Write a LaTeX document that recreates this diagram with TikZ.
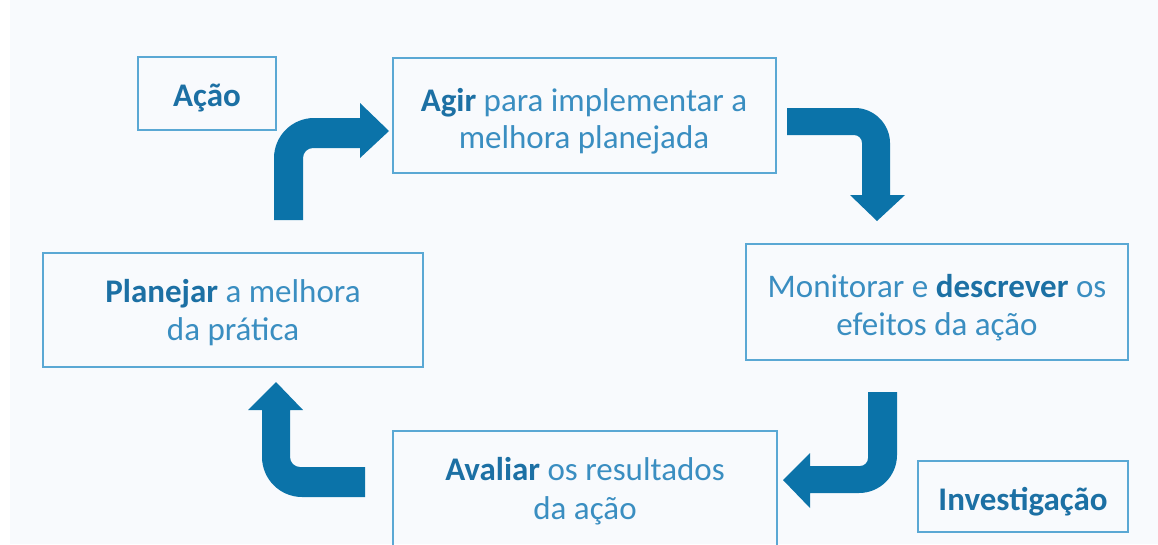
\documentclass[tikz,border=0pt]{standalone}
\usepackage{fontspec}
\setmainfont{Carlito}
\definecolor{bg}{HTML}{F8FAFD}
\definecolor{boxline}{HTML}{5AA8D4}
\definecolor{arrowblue}{HTML}{0B73A9}
\definecolor{txt}{HTML}{3A8EC1}
\definecolor{txtbold}{HTML}{1C70A4}
\newcommand{\hl}[1]{{\bfseries\color{txtbold}#1}}
\begin{document}
\begin{tikzpicture}[x=1pt,y=-1pt,
  boxnode/.style={draw=boxline, line width=2pt, rectangle, inner sep=0pt},
  lbl/.style={anchor=base, text=txt, font=\fontsize{33}{38}\selectfont, inner sep=0pt},
  arr/.style={fill=arrowblue}]
\useasboundingbox (0,0) rectangle (1158,544);
\clip (0,0) rectangle (1158,544);
\fill[white] (0,0) rectangle (1158,544);
\fill[bg] (10,0) rectangle (1158,544);

% boxes
\node[boxnode, minimum width=138pt, minimum height=73pt] (acao) at (207,93.5) {};
\node[boxnode, minimum width=383pt, minimum height=115pt] (agir) at (584.5,115.5) {};
\node[boxnode, minimum width=380pt, minimum height=114pt] (plan) at (233,310) {};
\node[boxnode, minimum width=382pt, minimum height=116pt] (moni) at (937,302) {};
\node[boxnode, minimum width=384pt, minimum height=130pt] (aval) at (585,496) {};
\node[boxnode, minimum width=210pt, minimum height=71pt] (inv) at (1023,496.5) {};

% arrows
\fill[arr] (274,220) -- (274,158) .. controls (274,136) and (292,118) .. (314,118)
  -- (360,118) -- (360,103) -- (389,131) -- (360,158) -- (360,148) -- (313,148)
  .. controls (307.5,148) and (303,152.5) .. (303,158) -- (303,220) -- cycle;
\fill[arr] (787,108) -- (855,108) .. controls (874,108) and (890,124) .. (890,143)
  -- (890,195) -- (905,195) -- (877,221) -- (850,195) -- (862,195) -- (862,143)
  .. controls (862,138.6) and (858.4,135) .. (854,135) -- (787,135) -- cycle;
\fill[arr] (868,392) -- (897,392) -- (897,455) .. controls (897,476) and (880,493) .. (859,493)
  -- (810,493) -- (810,508) -- (783,480) -- (810,453) -- (810,466) -- (860,466)
  .. controls (864.4,466) and (868,462.4) .. (868,458) -- cycle;
\fill[arr] (365,467) -- (300,467) .. controls (294.5,467) and (290,462.5) .. (290,457)
  -- (290,410) -- (303,410) -- (276,382) -- (248,410) -- (262,410) -- (262,457)
  .. controls (262,479) and (280,497) .. (302,497) -- (365,497) -- cycle;

% texts
\node[lbl] (acaoT) at (207,106) {\hl{Ação}};
\node[lbl] (agirA) at (584,111) {\hl{Agir} para implementar a};
\node[lbl] (agirB) at (584,148) {melhora planejada};
\node[lbl] (planA) at (233,302) {\hl{Planejar} a melhora};
\node[lbl] (planB) at (233,340) {da prática};
\node[lbl] (moniA) at (937,297) {Monitorar e \hl{descrever} os};
\node[lbl] (moniB) at (937,335) {efeitos da ação};
\node[lbl] (avalA) at (585,480) {\hl{Avaliar} os resultados};
\node[lbl] (avalB) at (585,519) {da ação};
\node[lbl] (invT) at (1023,510) {\hl{Investigação}};
\end{tikzpicture}
\end{document}
